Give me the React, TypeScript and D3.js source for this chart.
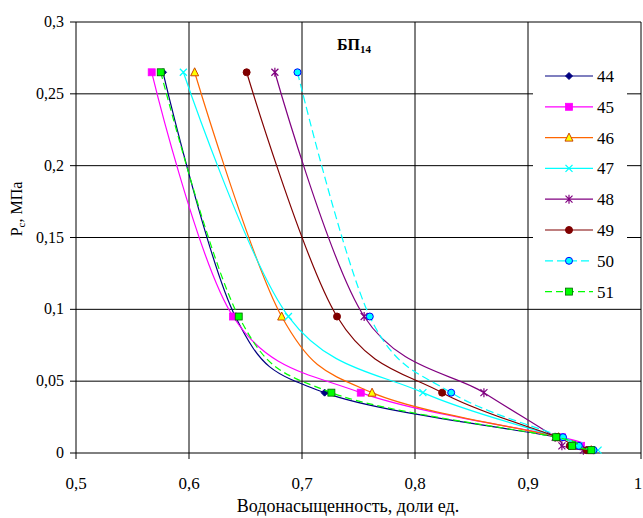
import * as d3 from "d3";

const pressure = [0.265, 0.095, 0.042, 0.011, 0.005, 0.002];
const seriesNames = ["44", "45", "46", "47", "48", "49", "50", "51"];
const sat44 = [0.577, 0.641, 0.72, 0.925, 0.94, 0.955];
const sat45 = [0.567, 0.639, 0.752, 0.93, 0.947, 0.955];
const sat46 = [0.605, 0.682, 0.762, 0.927, 0.94, 0.956];
const sat47 = [0.595, 0.688, 0.807, 0.927, 0.945, 0.962];
const sat48 = [0.676, 0.755, 0.861, 0.924, 0.93, 0.949];
const sat49 = [0.651, 0.731, 0.824, 0.926, 0.937, 0.952];
const sat50 = [0.696, 0.76, 0.832, 0.931, 0.945, 0.958];
const sat51 = [0.575, 0.644, 0.726, 0.925, 0.939, 0.956];
const xTicks = [0.5, 0.6, 0.7, 0.8, 0.9, 1];
const yTicks = [0, 0.05, 0.1, 0.15, 0.2, 0.25, 0.3];

const styles = [
  { line: "#000080", dash: null, marker: "diamond", fill: "#000080", stroke: "#000080" },
  { line: "#ff00ff", dash: null, marker: "square", fill: "#ff00ff", stroke: "#ff00ff" },
  { line: "#ff6600", dash: null, marker: "triangle", fill: "#ffff00", stroke: "#cc4400" },
  { line: "#00ffff", dash: null, marker: "cross", fill: "none", stroke: "#00ffff" },
  { line: "#800080", dash: null, marker: "star", fill: "none", stroke: "#800080" },
  { line: "#800000", dash: null, marker: "circle", fill: "#800000", stroke: "#800000" },
  { line: "#00ffff", dash: "8 4", marker: "circle", fill: "#00ffff", stroke: "#0000ff" },
  { line: "#00ff00", dash: "7 4", marker: "square", fill: "#00ff00", stroke: "#006600" },
];

const allSat = [sat44, sat45, sat46, sat47, sat48, sat49, sat50, sat51];

const fmt = (v: number) => String(v).replace(".", ",");

function Marker({ kind, x, y, fill, stroke }: any) {
  const s = 3.5;
  if (kind === "diamond")
    return <path d={`M${x},${y - s}L${x + s},${y}L${x},${y + s}L${x - s},${y}Z`} fill={fill} stroke={stroke} />;
  if (kind === "square")
    return <rect x={x - s} y={y - s} width={2 * s} height={2 * s} fill={fill} stroke={stroke} strokeWidth={0.8} />;
  if (kind === "triangle")
    return <path d={`M${x},${y - s - 1}L${x + s + 0.5},${y + s}L${x - s - 0.5},${y + s}Z`} fill={fill} stroke={stroke} />;
  if (kind === "circle")
    return <circle cx={x} cy={y} r={s} fill={fill} stroke={stroke} strokeWidth={1} />;
  if (kind === "cross")
    return <path d={`M${x - s},${y - s}L${x + s},${y + s}M${x - s},${y + s}L${x + s},${y - s}`} stroke={stroke} strokeWidth={1.3} />;
  return (
    <path
      d={`M${x - s},${y - s}L${x + s},${y + s}M${x - s},${y + s}L${x + s},${y - s}M${x},${y - s - 1}L${x},${y + s + 1}`}
      stroke={stroke}
      strokeWidth={1.2}
    />
  );
}

export default function App() {
  const width = 643;
  const height = 518;
  const x = d3.scaleLinear().domain([0.5, 1]).range([76, 641]);
  const y = d3.scaleLinear().domain([0, 0.3]).range([453, 22]);

  const line = d3
    .line<[number, number]>()
    .x((d) => x(d[0]))
    .y((d) => y(d[1]))
    .curve(d3.curveCatmullRom.alpha(0));

  const font = "'Liberation Serif', 'Times New Roman', serif";
  const legendX = 545;
  const legendY = 76;
  const legendStep = 30.8;

  return (
    <svg
      width={width}
      height={height}
      style={{ position: "absolute", left: 0, top: 0, background: "#fff", fontFamily: font }}
    >
      <rect x={0} y={0} width={width} height={height} fill="#fff" />
      {/* grid */}
      {yTicks.map((t) => (
        <line key={"gy" + t} x1={x(0.5)} x2={x(1)} y1={y(t)} y2={y(t)} stroke="#000" strokeWidth={1} />
      ))}
      {xTicks.map((t) => (
        <line key={"gx" + t} x1={x(t)} x2={x(t)} y1={y(0)} y2={y(0.3)} stroke="#000" strokeWidth={1} />
      ))}
      {/* ticks */}
      {yTicks.map((t) => (
        <line key={"ty" + t} x1={x(0.5) - 6} x2={x(0.5)} y1={y(t)} y2={y(t)} stroke="#000" />
      ))}
      {xTicks.map((t) => (
        <line key={"tx" + t} x1={x(t)} x2={x(t)} y1={y(0)} y2={y(0) + 6} stroke="#000" />
      ))}
      {yTicks.map((t) => (
        <text key={"ly" + t} x={64} y={y(t) + 5} textAnchor="end" fontSize={16}>
          {fmt(t)}
        </text>
      ))}
      {xTicks.map((t) => (
        <text key={"lx" + t} x={t === 1 ? x(t) - 3 : x(t)} y={489} textAnchor="middle" fontSize={17}>
          {fmt(t)}
        </text>
      ))}

      {/* series */}
      {allSat.map((sat, i) => {
        const pts = sat.map((s, j) => [s, pressure[j]] as [number, number]);
        const st = styles[i];
        return (
          <g key={seriesNames[i]}>
            <path d={line(pts) || ""} fill="none" stroke={st.line} strokeWidth={1.2} strokeDasharray={st.dash || undefined} />
            {pts.map((p, j) => (
              <Marker key={j} kind={st.marker} x={x(p[0])} y={y(p[1])} fill={st.fill} stroke={st.stroke} />
            ))}
          </g>
        );
      })}

      {/* legend */}
      <rect x={533} y={57} width={94} height={248} fill="#fff" />
      {seriesNames.map((name, i) => {
        const st = styles[i];
        const ly = legendY + i * legendStep;
        return (
          <g key={"lg" + name}>
            <line x1={legendX} x2={legendX + 48} y1={ly} y2={ly} stroke={st.line} strokeWidth={1.2} strokeDasharray={st.dash || undefined} />
            <Marker kind={st.marker} x={legendX + 24} y={ly} fill={st.fill} stroke={st.stroke} />
            <text x={597} y={ly + 6} fontSize={17}>
              {name}
            </text>
          </g>
        );
      })}

      {/* title */}
      <text x={337} y={50} fontSize={16} fontWeight="bold">
        БП<tspan fontSize={11} dy={3}>14</tspan>
      </text>

      {/* axis titles */}
      <text x={348} y={512} textAnchor="middle" fontSize={18}>
        Водонасыщенность, доли ед.
      </text>
      <text transform="translate(22,209) rotate(-90)" textAnchor="middle" fontSize={16}>
        Р<tspan fontSize={11} dy={3}>с</tspan>
        <tspan dy={-3}>, МПа</tspan>
      </text>
    </svg>
  );
}
